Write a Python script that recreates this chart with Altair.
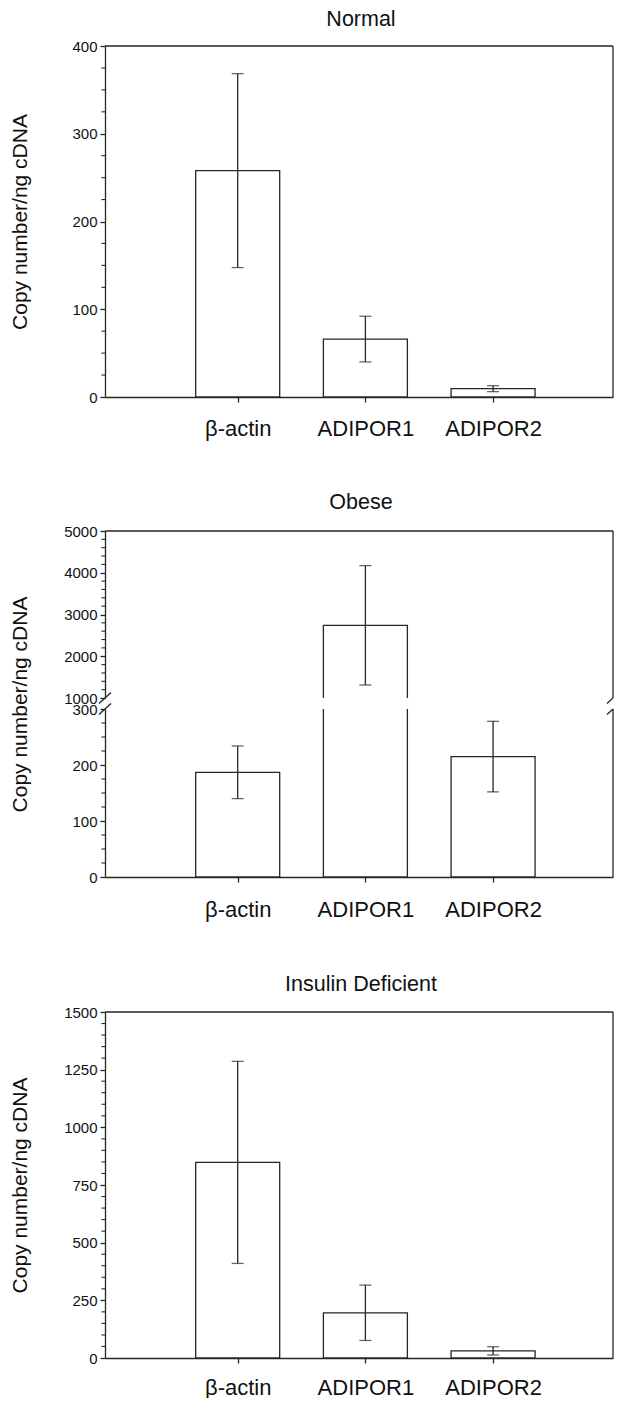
import json
import altair as alt
import pandas as pd

# ---------------- data ----------------
categories = ["β-actin", "ADIPOR1", "ADIPOR2"]
positions = [1, 2, 3]

normal_mean = [258, 66, 9.5]
normal_err = [110.5, 26, 3.4]

obese_mean = [187, 2741, 215]
obese_err = [47, 1430, 63]

insulin_mean = [848, 196, 31]
insulin_err = [438, 120, 18]

normal_ticks = [0, 100, 200, 300, 400]
normal_minor = [25, 50, 75, 125, 150, 175, 225, 250, 275, 325, 350, 375]
obese_upper_ticks = [1000, 2000, 3000, 4000, 5000]
obese_upper_minor = [1200, 1400, 1600, 1800, 2200, 2400, 2600, 2800,
                     3200, 3400, 3600, 3800, 4200, 4400, 4600, 4800]
obese_lower_ticks = [0, 100, 200, 300]
obese_lower_minor = [25, 50, 75, 125, 150, 175, 225, 250, 275]
insulin_ticks = [0, 250, 500, 750, 1000, 1250, 1500]
insulin_minor = [50, 100, 150, 200, 300, 350, 400, 450, 550, 600, 650, 700,
                 800, 850, 900, 950, 1050, 1100, 1150, 1200, 1300, 1350, 1400, 1450]

Y_TITLE = "Copy number/ng cDNA"
TITLES = ["Normal", "Obese", "Insulin Deficient"]

# ---------------- style ----------------
INK = "#262626"
TXT = "#111111"
FONT = "Liberation Sans"
LW = 1.3
X_DOMAIN = [0, 3.9]
W = 508

label_expr = json.dumps([""] + categories, ensure_ascii=False) + "[datum.value]"


def make_df(means, errs):
    return pd.DataFrame({
        "pos": positions,
        "cat": categories,
        "mean": means,
        "lo": [m - e for m, e in zip(means, errs)],
        "hi": [m + e for m, e in zip(means, errs)],
    })


def panel(df, ydom, majors, minors, w, h, y_title=True, title=None, title_gap=20,
          x_axis=True, frame_top=True, breaks=None, title_y=None, label_pad=17):
    yscale = alt.Scale(domain=ydom, nice=False, zero=False)
    xscale = alt.Scale(domain=X_DOMAIN, nice=False, zero=False)

    if x_axis:
        xaxis = alt.Axis(values=positions, labelExpr=label_expr, title=None, grid=False,
                         tickSize=5, tickColor=INK, tickWidth=LW, domainColor=INK,
                         domainWidth=LW, labelFont=FONT, labelFontSize=22,
                         labelColor=TXT, labelPadding=label_pad, labelFlush=False,
                         labelOverlap=False)
    else:
        xaxis = None

    ykw = dict(values=majors, format="d", grid=False, tickSize=5, tickColor=INK,
               tickWidth=LW, domainColor=INK, domainWidth=LW, labelFont=FONT,
               labelFontSize=15, labelColor=TXT, labelPadding=3, labelFlush=False,
               labelOverlap=False)
    if y_title:
        ykw.update(title=Y_TITLE, titleFont=FONT, titleFontSize=21,
                   titleFontWeight="normal", titleColor=TXT, titleX=-75)
        if title_y is not None:
            ykw.update(titleY=title_y)
    else:
        ykw.update(title=None)
    yaxis = alt.Axis(**ykw)

    X = lambda f: alt.X(f, scale=xscale, axis=xaxis)
    Y = lambda f: alt.Y(f, scale=yscale, axis=yaxis)

    base = alt.Chart(df)
    bars = base.mark_bar(size=84, fill="white", stroke=INK, strokeWidth=LW,
                         clip=True).encode(
        x=X("pos:Q"), y=Y("mean:Q"), y2=alt.datum(0),
    )
    err = base.mark_rule(color=INK, strokeWidth=LW, clip=True).encode(
        x=X("pos:Q"), y=Y("lo:Q"), y2="hi:Q",
    )
    caps = base.transform_fold(["lo", "hi"], as_=["end", "v"]).mark_tick(
        orient="horizontal", size=12, thickness=LW, color=INK, clip=True).encode(
        x=X("pos:Q"), y=Y("v:Q"),
    )
    minor = alt.Chart(pd.DataFrame({"v": minors})).mark_rule(
        color=INK, strokeWidth=1.1).encode(
        y=Y("v:Q"), x=alt.value(-3.5), x2=alt.value(0),
    )
    one = pd.DataFrame({"k": [1]})
    layers = [bars, err, caps, minor]
    if frame_top:
        layers.append(alt.Chart(one).mark_rule(color=INK, strokeWidth=LW).encode(
            x=alt.value(0), x2=alt.value(w), y=alt.value(0)))
    layers.append(alt.Chart(one).mark_rule(color=INK, strokeWidth=LW).encode(
        x=alt.value(w), y=alt.value(0), y2=alt.value(h)))
    if breaks is not None:
        yb = h if breaks == "bottom" else 0
        layers.append(alt.Chart(one).mark_rule(color=INK, strokeWidth=LW).encode(
            x=alt.value(-6), x2=alt.value(6), y=alt.value(yb + 5.5), y2=alt.value(yb - 5.5)))
        layers.append(alt.Chart(one).mark_rule(color=INK, strokeWidth=LW).encode(
            x=alt.value(w - 6), x2=alt.value(w), y=alt.value(yb + 5.5), y2=alt.value(yb)))
    if title is not None:
        layers.append(alt.Chart(one).mark_text(
            font=FONT, fontSize=21.5, color=TXT, align="center",
            baseline="alphabetic").encode(
            x=alt.value(w / 2 + 2), y=alt.value(-title_gap), text=alt.value(title)))

    return alt.layer(*layers).properties(width=w, height=h)


normal_df = make_df(normal_mean, normal_err)
obese_df = make_df(obese_mean, obese_err)
insulin_df = make_df(insulin_mean, insulin_err)

p1 = panel(normal_df, [0, 400], normal_ticks, normal_minor, W, 351,
           title=TITLES[0], title_gap=20.3, label_pad=16)

upper = panel(obese_df, [1000, 5000], obese_upper_ticks, obese_upper_minor, W, 167,
              y_title=False, title=TITLES[1], title_gap=22, x_axis=False,
              breaks="bottom")
lower = panel(obese_df, [0, 300], obese_lower_ticks, obese_lower_minor, W, 168,
              title_y=-5, frame_top=False, breaks="top", label_pad=17)
p2 = alt.vconcat(upper, lower, spacing=11, bounds="flush")

p3 = panel(insulin_df, [0, 1500], insulin_ticks, insulin_minor, W, 346,
           title=TITLES[2], title_gap=21.3, label_pad=14)

chart = alt.concat(p1, p2, p3, columns=1, bounds="full", spacing=53).properties(
    padding={"left": 0, "top": 0, "right": 0, "bottom": 0}
).configure_view(strokeWidth=0)

chart.save("out.html", embed_options={"renderer": "svg", "actions": False})
